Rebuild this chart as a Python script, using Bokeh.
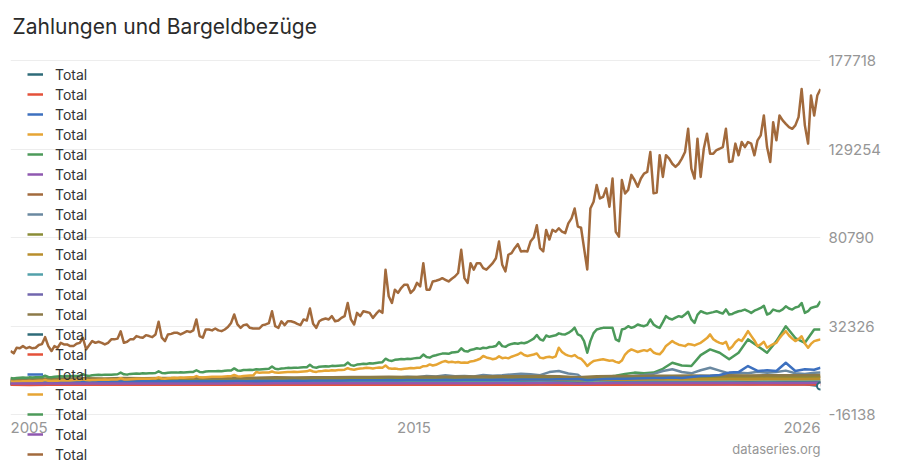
import pandas as pd
from bokeh.plotting import figure
from bokeh.models import Range1d, FixedTicker, Legend, LegendItem, Label
from bokeh.embed import file_html
from bokeh.resources import INLINE

TITLE = "Zahlungen und Bargeldbezüge"
SERIES_LABEL = "Total"
Y_TICKS = [-16138, 32326, 80790, 129254, 177718]
X_TICK_LABELS = ["2005", "2015", "2026"]
SOURCE = "dataseries.org"

MONTHS = list(pd.date_range("2005-01-01", "2026-06-01", freq="MS"))
QUARTERS = list(pd.date_range("2005-01-01", "2026-04-01", freq="3MS")) + [pd.Timestamp("2026-06-01")]
HALVES = list(pd.date_range("2005-01-01", "2026-01-01", freq="6MS")) + [pd.Timestamp("2026-06-01")]

PALETTE = ["#2e6b79", "#e4513a", "#3d70bf", "#e6a534", "#4c9a5a", "#8f58b0", "#a26a3c",
           "#6a88a0", "#8a8c36", "#b88e2c", "#52a0aa", "#7166ae", "#8c7a48"]

# half-yearly series (near the baseline)
s01 = [350, 300, 380, 330, 400, 360, 420, 380, 440, 400,
       450, 420, 470, 430, 480, 450, 500, 460, 510, 480,
       520, 490, 540, 500, 550, 520, 560, 530, 580, 540,
       450, 520, 560, 540, 580, 560, 600, 570, 610, 580,
       620, 600, 560, -400]
s02 = [650, 620, 680, 640, 700, 660, 720, 680, 740, 700,
       760, 720, 780, 740, 800, 760, 820, 780, 840, 800,
       860, 820, 880, 840, 900, 860, 920, 880, 940, 900,
       760, 860, 900, 920, 940, 960, 980, 950, 1000, 970,
       1020, 990, 1040, 1000]
s03 = [1800, 1750, 1850, 1800, 1900, 1850, 1950, 1900, 2000, 1950,
       2050, 2000, 2100, 2050, 2150, 2100, 2200, 2150, 2250, 2200,
       2300, 2250, 2350, 2300, 2400, 2350, 2450, 2400, 2500, 2450,
       2100, 2300, 2400, 2450, 2500, 2550, 2600, 2550, 2650, 2600,
       2700, 2650, 2600, 2750]
s04 = [1300, 1250, 1350, 1300, 1400, 1380, 1450, 1420, 1500, 1480,
       1550, 1520, 1600, 1580, 1650, 1620, 1700, 1680, 1750, 1720,
       1800, 1780, 1850, 1820, 1900, 1880, 1950, 1920, 2000, 1980,
       1700, 1900, 2000, 2050, 2100, 2150, 2200, 2180, 2250, 2230,
       2300, 2280, 2350, 2450]
s06 = [700, 680, 720, 700, 740, 720, 760, 740, 780, 760,
       800, 780, 820, 800, 840, 820, 860, 840, 880, 860,
       900, 880, 920, 900, 940, 920, 960, 940, 980, 960,
       820, 900, 940, 960, 980, 1000, 1020, 1000, 1040, 1020,
       1060, 1040, 1080, 1060]
s07 = [2600, 2550, 2700, 2650, 2800, 2750, 2900, 2850, 3000, 2950,
       3100, 3050, 3200, 3150, 3300, 3250, 3400, 3350, 3500, 3450,
       3600, 3550, 3700, 3650, 3800, 3750, 3900, 3850, 4000, 3950,
       3300, 3900, 4000, 4100, 4200, 4250, 4300, 4250, 4400, 4350,
       4500, 4450, 4400, 4600]
s09 = [3000, 2950, 3050, 3000, 3100, 3080, 3150, 3120, 3200, 3180,
       3250, 3220, 3300, 3280, 3350, 3330, 3400, 3380, 3450, 3430,
       3500, 3480, 3550, 3530, 3600, 3580, 3650, 3630, 3700, 3680,
       3200, 3600, 3800, 3850, 3900, 3950, 4000, 4050, 4100, 4150,
       4200, 4250, 4300, 4400]
s10 = [2000, 1950, 2080, 2030, 2150, 2100, 2230, 2180, 2300, 2250,
       2380, 2330, 2450, 2400, 2530, 2480, 2600, 2550, 2680, 2630,
       2750, 2700, 2830, 2780, 2900, 2850, 2980, 2930, 3050, 3000,
       2600, 2900, 3050, 3100, 3200, 3250, 3300, 3280, 3400, 3380,
       3500, 3450, 3450, 3600]
s11 = [1200, 1180, 1230, 1210, 1260, 1240, 1290, 1270, 1320, 1300,
       1350, 1330, 1380, 1360, 1410, 1390, 1440, 1420, 1470, 1450,
       1500, 1480, 1530, 1510, 1560, 1540, 1590, 1570, 1620, 1600,
       1400, 1550, 1650, 1680, 1720, 1750, 1800, 1780, 1850, 1830,
       1900, 1880, 1900, 2000]
s12 = [400, 390, 410, 400, 420, 410, 430, 420, 440, 430,
       450, 440, 460, 450, 470, 460, 480, 470, 490, 480,
       500, 490, 510, 500, 520, 510, 530, 520, 540, 530,
       460, 510, 530, 540, 550, 560, 570, 560, 580, 570,
       590, 580, 590, 600]
s13 = [3600, 3550, 3700, 3650, 3800, 3750, 3900, 3850, 4000, 3950,
       4100, 4050, 4200, 4150, 4300, 4250, 4400, 4350, 4500, 4450,
       4600, 4550, 4700, 4650, 4800, 4750, 4900, 4850, 5000, 4950,
       4300, 4900, 5000, 5100, 5200, 5250, 5300, 5250, 5400, 5350,
       5500, 5450, 5400, 5600]
s14 = [800, 850, 820, 880, 860, 900, 880, 920, 900, 950,
       930, 970, 950, 1000, 980, 1020, 1000, 1050, 1030, 1080,
       1050, 1100, 1080, 1120, 1100, 1150, 1120, 1180, 1150, 1200,
       1050, 1150, 1180, 1200, 1220, 1250, 1230, 1270, 1250, 1300,
       1280, 1320, 1300, 1350]
s15 = [200, 190, 210, 200, 220, 210, 230, 220, 240, 230,
       250, 240, 260, 250, 270, 260, 280, 270, 290, 280,
       300, 290, 310, 300, 320, 310, 330, 320, 340, 330,
       280, 320, 330, 340, 350, 360, 370, 360, 380, 370,
       390, 380, 390, 400]
s19 = [900, 880, 920, 900, 940, 920, 960, 940, 980, 960,
       1000, 980, 1020, 1000, 1040, 1020, 1060, 1040, 1080, 1060,
       1100, 1080, 1120, 1100, 1140, 1120, 1160, 1140, 1180, 1160,
       1000, 1120, 1160, 1180, 1200, 1220, 1240, 1220, 1260, 1240,
       1280, 1260, 1280, 1300]

# quarterly series
s05 = [1200, 1150, 1250, 1220, 1280, 1240, 1300, 1270, 1330, 1300,
       1360, 1320, 1390, 1350, 1420, 1380, 1450, 1410, 1480, 1440,
       1510, 1470, 1540, 1500, 1570, 1530, 1600, 1560, 1630, 1590,
       1660, 1620, 1690, 1650, 1720, 1680, 1750, 1710, 1780, 1740,
       1810, 1770, 1840, 1800, 1870, 1830, 1900, 1860, 1930, 1890,
       1960, 1920, 1990, 1950, 2020, 1980, 2050, 2010, 2080, 2100,
       2400, 2200, 3500, 4500, 5200, 6200, 6900, 6500, 6900, 9000,
       12300, 10800, 10500, 16500, 19600, 17800, 14200, 17800, 25100, 21500,
       17800, 24150, 32300, 25800, 23200, 30500, 30500]
s08 = [2500, 2450, 2550, 2520, 2600, 2560, 2650, 2620, 2700, 2660,
       2750, 2720, 2800, 2760, 2850, 2820, 2900, 2860, 2950, 2920,
       3000, 2960, 3050, 3020, 3100, 3060, 3150, 3120, 3200, 3160,
       3250, 3220, 3300, 3260, 3350, 3320, 3400, 3360, 3450, 3800,
       4000, 4200, 4600, 4400, 5100, 4800, 5400, 4900, 5000, 4800,
       5600, 5200, 5400, 5900, 6300, 6000, 5500, 7200, 7800, 6400,
       5800, 1800, 3200, 4200, 4500, 4800, 5200, 5600, 6200, 7800,
       8750, 7200, 6500, 8200, 9600, 8000, 6400, 6800, 6500, 7400,
       6800, 7200, 8000, 6600, 6200, 6800, 6900]
s16 = [1800, 1750, 1850, 1820, 1900, 1860, 1950, 1920, 2000, 1960,
       2050, 2010, 2100, 2060, 2150, 2110, 2200, 2160, 2250, 2210,
       2300, 2260, 2350, 2310, 2400, 2360, 2450, 2410, 2500, 2460,
       2550, 2510, 2600, 2560, 2650, 2610, 2700, 2660, 2750, 2710,
       2800, 2760, 2850, 2810, 2900, 2860, 2950, 2910, 3000, 2960,
       3050, 3010, 3100, 3060, 3150, 3110, 3200, 3160, 3250, 3300,
       3400, 2800, 3200, 3400, 3500, 3600, 3700, 3800, 3900, 4000,
       4200, 4000, 4500, 5100, 5200, 5600, 6900, 7200, 10500, 7800,
       8200, 7800, 12300, 7800, 8750, 8500, 9600]

# monthly series
s17 = [2000, 1900, 2100, 2100, 2200, 2200, 2300, 2200, 2300, 2400, 2400, 2900,
       2400, 2300, 2500, 2500, 2600, 2600, 2700, 2600, 2700, 2800, 2800, 3300,
       2800, 2700, 2900, 2900, 3000, 3000, 3100, 3000, 3100, 3200, 3200, 3800,
       3200, 3100, 3300, 3400, 3500, 3500, 3600, 3500, 3600, 3700, 3700, 4300,
       3700, 3600, 3800, 3900, 4100, 4000, 4200, 4100, 4200, 4300, 4300, 5000,
       4300, 4200, 4400, 4500, 4600, 4600, 4700, 4700, 4800, 4900, 4900, 5600,
       4900, 4800, 5100, 5200, 5300, 5300, 7200, 6800, 6900, 6900, 7000, 7500,
       6900, 6800, 7000, 7100, 7200, 7200, 7400, 7300, 7400, 7500, 7600, 8200,
       7500, 7300, 7700, 7800, 8000, 7900, 8200, 8100, 8300, 8400, 8500, 9300,
       8700, 8500, 8900, 9100, 9300, 9600, 9400, 9200, 9500, 9700, 9600, 10800,
       9300, 9000, 9100, 8900, 8750, 9000, 9200, 9400, 9300, 9600, 9600, 10400,
       10500, 11400, 10800, 11200, 12000, 12800, 13250, 12600, 12800, 12500, 12700, 12300,
       12500, 12300, 13000, 13250, 13800, 14500, 16000, 15200, 14800, 14200, 14600, 15800,
       14800, 15100, 14700, 15600, 16200, 16800, 17800, 16500, 16000, 16400, 16800, 17400,
       15100, 14800, 15300, 15600, 15100, 15800, 20500, 18200, 16900, 16200, 15800, 16500,
       15100, 14500, 12800, 10500, 12000, 13250, 13600, 13900, 14200, 13800, 13400, 13600,
       12800, 12300, 13500, 16800, 18500, 19600, 18900, 18200, 18700, 19200, 18700, 19800,
       17900, 17200, 16900, 18800, 21500, 22800, 24150, 23000, 22200, 21800, 21400, 22600,
       22300, 21800, 22500, 23200, 24500, 25800, 27800, 25200, 24000, 23200, 22700, 23800,
       19600, 21200, 23500, 25100, 24200, 26800, 29600, 27000, 24500, 21400, 22300, 23800,
       20500, 21600, 22500, 23200, 25800, 27900, 29600, 27200, 25500, 24150, 25200, 26800,
       22800, 20500, 22600, 24150, 24600, 25100]
s18 = [3900, 3700, 4000, 4100, 4200, 4100, 4300, 4200, 4300, 4400, 4500, 5200,
       4500, 4400, 4700, 4800, 4900, 4800, 5000, 4900, 5000, 5100, 5200, 6000,
       5300, 5100, 5500, 5600, 5700, 5600, 5800, 5700, 5800, 5900, 6000, 6900,
       6000, 5800, 6200, 6300, 6400, 6300, 6500, 6400, 6500, 6600, 6700, 7600,
       6700, 6500, 6800, 6900, 7000, 6900, 7100, 7000, 7100, 7200, 7300, 8200,
       7300, 7100, 7500, 7600, 7700, 7600, 7800, 7700, 7900, 8000, 8100, 9200,
       8100, 7900, 8300, 8400, 8500, 8400, 8700, 8600, 8800, 8900, 9000, 10200,
       9000, 8800, 9200, 9300, 9500, 9400, 9600, 9500, 9700, 9800, 9900, 11200,
       9900, 9600, 10100, 10300, 10400, 10300, 10600, 10500, 10700, 10800, 10900, 12400,
       11000, 10700, 11300, 11500, 11700, 11600, 12000, 11900, 12200, 12400, 12600, 14500,
       13600, 13300, 13900, 14100, 14300, 14200, 14500, 14400, 14700, 14900, 15100, 16800,
       15400, 15100, 16000, 16400, 16900, 17300, 17400, 17200, 17900, 18100, 18300, 20200,
       18700, 18400, 19300, 19700, 20200, 19900, 20500, 20300, 20900, 21100, 21500, 23600,
       21400, 21000, 22000, 22600, 23000, 22700, 23200, 23000, 23500, 24500, 25500, 27500,
       25100, 24500, 27200, 26500, 26900, 27300, 28400, 27900, 27800, 28600, 29800, 31500,
       27800, 27000, 24150, 17800, 24150, 28500, 30500, 31000, 31400, 31400, 31400, 31400,
       25100, 24150, 30500, 31000, 32300, 31400, 32000, 33250, 32700, 32300, 33000, 36000,
       33250, 32000, 31400, 34500, 37800, 36500, 36000, 37000, 37800, 37300, 38700, 40200,
       36000, 34100, 38500, 40500, 39800, 39200, 39600, 40000, 40500, 39800, 39200, 41500,
       38700, 39000, 39800, 40500, 40800, 41400, 40600, 39600, 40800, 41500, 42300, 43500,
       38700, 39500, 41400, 40800, 40500, 41500, 43200, 42000, 41400, 42500, 43000, 45000,
       39600, 40500, 42300, 42800, 43200, 46000]
s20 = [18700, 17450, 20500, 20200, 21400, 20200, 20900, 20200, 20500, 22000, 22500, 26300,
       21400, 18700, 21400, 20500, 23200, 22300, 22300, 21400, 21400, 22700, 23200, 26000,
       19600, 22000, 24150, 23200, 23800, 23200, 22300, 23200, 25100, 25100, 25500, 29500,
       23200, 23800, 25100, 25100, 26900, 26300, 26000, 27400, 26900, 26300, 27800, 34700,
       26000, 24150, 27800, 28100, 28700, 28700, 27800, 28700, 29600, 29100, 30000, 36000,
       26900, 26000, 30500, 30500, 30000, 31050, 30000, 29600, 30500, 31800, 34100, 38700,
       33250, 31400, 32900, 33250, 31400, 31050, 31050, 31050, 32900, 33250, 34000, 40500,
       32300, 31400, 35000, 32900, 35000, 35000, 34500, 33600, 32900, 36000, 35400, 42000,
       33600, 31400, 35000, 36000, 36500, 36000, 37800, 35000, 35400, 36850, 37800, 45000,
       36000, 33250, 39600, 37800, 40500, 40100, 39600, 36850, 39000, 40900, 39600, 63200,
       48700, 45000, 52300, 50500, 53200, 55000, 55000, 50500, 52300, 56000, 54100, 66800,
       52300, 52300, 56800, 57200, 57700, 58600, 57700, 56800, 58300, 59500, 61400, 74100,
       58600, 56000, 66800, 63200, 66800, 66800, 64100, 63200, 65000, 66800, 69500, 78600,
       65900, 62300, 71400, 72300, 75000, 77200, 73200, 73500, 73200, 78600, 80800, 87500,
       75000, 73200, 85000, 79700, 85000, 84000, 85900, 84000, 83200, 88600, 91300, 96700,
       86800, 86200, 75000, 63300, 96700, 100400, 109600, 102200, 103100, 107700, 97700, 113100,
       84000, 81300, 112300, 104900, 106900, 115100, 112300, 108600, 113100, 115800, 116700, 127600,
       105000, 105500, 125900, 114000, 125900, 124000, 121200, 119500, 121200, 124000, 127600, 140300,
       118500, 113100, 134900, 114000, 129400, 137600, 126700, 126700, 128700, 129400, 130300, 140300,
       122200, 122600, 132200, 125800, 133100, 130300, 133100, 132200, 125800, 134000, 136700, 147600,
       130300, 122200, 143950, 134000, 147600, 144900, 143000, 141200, 140300, 142200, 146700, 162100,
       142200, 132200, 158500, 147600, 158500, 162100]

SERIES = [(HALVES, s01), (HALVES, s02), (HALVES, s03), (HALVES, s04), (QUARTERS, s05),
          (HALVES, s06), (HALVES, s07), (QUARTERS, s08), (HALVES, s09), (HALVES, s10),
          (HALVES, s11), (HALVES, s12), (HALVES, s13), (HALVES, s14), (HALVES, s15),
          (QUARTERS, s16), (MONTHS, s17), (MONTHS, s18), (HALVES, s19), (MONTHS, s20)]

FONT = "Inter"
GREY = "#969696"

# the plotting frame runs from just under the title down to the bottom edge, so that
# the legend and the bottom labels (which overflow the grid area) are not clipped;
# the y range is stretched accordingly so the grid lines keep their places
Y_TOP = 183163
Y_BOTTOM = -41187

p = figure(width=900, height=460, x_axis_type="datetime", y_axis_location="right",
           x_range=Range1d(MONTHS[0], MONTHS[-1]), y_range=Range1d(Y_BOTTOM, Y_TOP),
           output_backend="svg", toolbar_location=None, title=TITLE,
           min_border_left=10, min_border_right=80, min_border_top=48, min_border_bottom=0,
           background_fill_color="white", border_fill_color="white", outline_line_color=None)

p.title.text_font = FONT
p.title.text_font_size = "21px"
p.title.text_font_style = "normal"
p.title.text_color = "#2b2b2b"
p.title.align = "left"
p.title.offset = 2
p.title.standoff = 23

p.xaxis.visible = False
p.xgrid.visible = False
ya = p.yaxis[0]
ya.ticker = FixedTicker(ticks=Y_TICKS)
ya.major_label_overrides = {t: str(t) for t in Y_TICKS}
ya.axis_line_color = None
ya.major_tick_line_color = None
ya.minor_tick_line_color = None
ya.major_tick_out = 0
ya.major_tick_in = 0
ya.major_label_standoff = 8
ya.major_label_text_font = FONT
ya.major_label_text_font_size = "15px"
ya.major_label_text_color = GREY
p.ygrid.ticker = FixedTicker(ticks=Y_TICKS)
p.ygrid.grid_line_color = "#ededed"
p.ygrid.grid_line_width = 1

items = []
for i, (dates, vals) in enumerate(SERIES):
    r = p.line(dates, vals, line_color=PALETTE[i % len(PALETTE)], line_width=2.5, line_join="round")
    items.append(LegendItem(label=SERIES_LABEL, renderers=[r]))

p.scatter([HALVES[-1]], [s01[-1]], marker="circle", size=7, fill_color="white",
          line_color=PALETTE[0], line_width=2)

legend = Legend(items=items, location=(17, -2.5), padding=0, spacing=3, margin=0,
                glyph_width=16, glyph_height=16, label_height=17, label_standoff=12,
                label_text_font=FONT, label_text_font_size="14px", label_text_color="#333333",
                background_fill_alpha=0, border_line_color=None)
p.add_layout(legend)

def ms(ts):
    return ts.timestamp() * 1000.0

mid = MONTHS[(len(MONTHS) - 1) // 2]
for x, txt, align in [(ms(MONTHS[0]), X_TICK_LABELS[0], "left"),
                      (ms(mid), X_TICK_LABELS[1], "center"),
                      (ms(MONTHS[-1]), X_TICK_LABELS[2], "right")]:
    p.add_layout(Label(x=x, y=33, y_units="screen", text=txt, text_align=align,
                       text_baseline="middle", text_font=FONT, text_font_size="15px",
                       text_color=GREY))
p.add_layout(Label(x=ms(MONTHS[-1]), y=12, y_units="screen", text=SOURCE, text_align="right",
                   text_baseline="middle", text_font=FONT, text_font_size="13px", text_color=GREY))

open("out.html", "w").write(file_html(p, INLINE))
